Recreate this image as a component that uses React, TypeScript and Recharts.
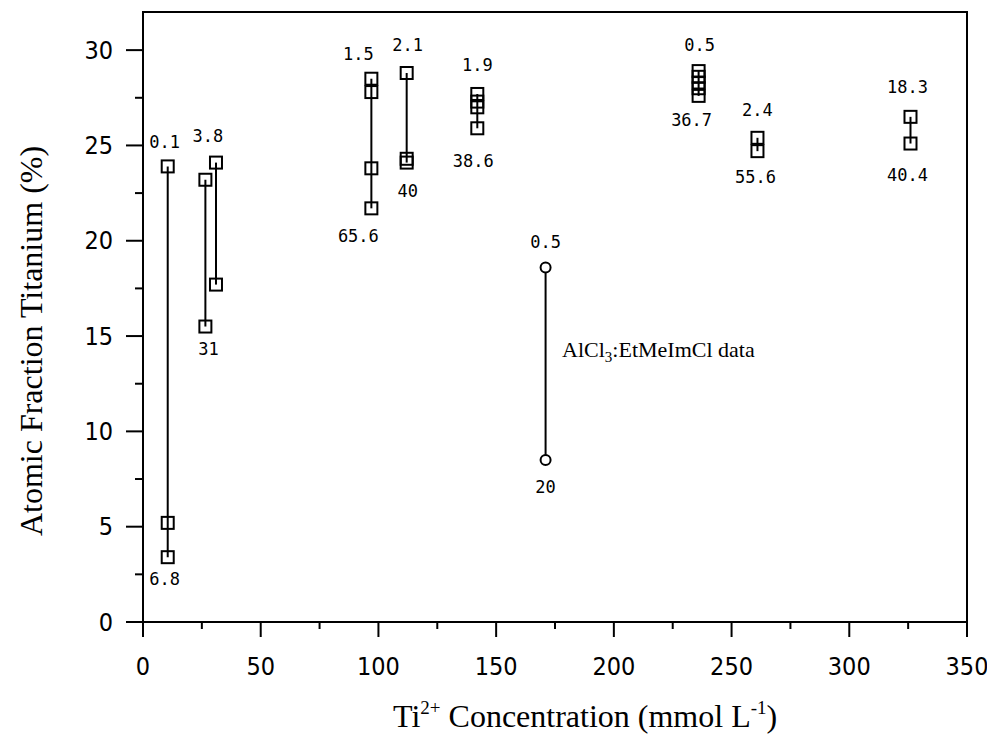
import { ScatterChart, Scatter, XAxis, YAxis, ReferenceDot, ReferenceArea, Label } from 'recharts';

// Ti2+ concentration (mmol/L) for each vertical group of squares
const clusterX = [10.5, 26.5, 31, 97, 112, 142, 236, 261, 326];
// atomic fraction titanium (%) per group, top to bottom
const clusterY = [
  [23.9, 5.2, 3.4],
  [23.2, 15.5],
  [24.1, 17.7],
  [28.5, 27.8, 23.8, 21.7],
  [28.8, 24.3, 24.1],
  [27.7, 27.3, 27.0, 25.9],
  [28.9, 28.6, 28.3, 28.0, 27.6],
  [25.4, 24.7],
  [26.5, 25.1],
];
const topLabels = ['0.1', '', '3.8', '1.5', '2.1', '1.9', '0.5', '2.4', '18.3'];
const bottomLabels = ['6.8', '31', '', '65.6', '40', '38.6', '36.7', '55.6', '40.4'];

// AlCl3:EtMeImCl group (circles)
const ilX = 171;
const ilY = [18.6, 8.5];
const ilTop = '0.5';
const ilBottom = '20';

const xTicks = [0, 25, 50, 75, 100, 125, 150, 175, 200, 225, 250, 275, 300, 325, 350];
const yTicks = [0, 2.5, 5, 7.5, 10, 12.5, 15, 17.5, 20, 22.5, 25, 27.5, 30];

// label nudges: [dxTop, dyTop, dxBottom, dyBottom]
const nudges = [
  [-3, -24, -3, 22],
  [0, 0, 3, 22],
  [-8, -27, 0, 0],
  [-13, -25, -13, 28],
  [1, -28, 1, 28],
  [0, -29, -4, 33],
  [1, -26, -7, 24],
  [0, -28, -2, 26],
  [-3, -30, -3, 31],
];
const ilNudge = [0, -25, 0, 27];

const groups = clusterX.map((x, i) =>
  clusterY[i].map((y, j, arr) => ({
    x,
    y,
    g: i,
    top: j === 0 ? topLabels[i] : '',
    bottom: j === arr.length - 1 ? bottomLabels[i] : '',
  }))
);
const ilData = ilY.map((y, j) => ({
  x: ilX,
  y,
  g: -1,
  top: j === 0 ? ilTop : '',
  bottom: j === ilY.length - 1 ? ilBottom : '',
}));

const numFont = "'DejaVu Sans Mono', monospace";
const tickFont = "'Liberation Sans Narrow', 'DejaVu Sans Condensed', sans-serif";
const serif = "'Liberation Serif', 'DejaVu Serif', serif";

function PointLabels({ cx, cy, payload }: any) {
  const n = payload.g < 0 ? ilNudge : nudges[payload.g];
  return (
    <>
      {payload.top && (
        <text x={cx + n[0]} y={cy + n[1]} textAnchor="middle" dominantBaseline="central" fontFamily={numFont} fontSize={17} fill="#000">
          {payload.top}
        </text>
      )}
      {payload.bottom && (
        <text x={cx + n[2]} y={cy + n[3]} textAnchor="middle" dominantBaseline="central" fontFamily={numFont} fontSize={17} fill="#000">
          {payload.bottom}
        </text>
      )}
    </>
  );
}

function SquareMark(props: any) {
  const { cx, cy } = props;
  return (
    <g>
      <rect x={cx - 6} y={cy - 6} width={12} height={12} fill="none" stroke="#000" strokeWidth={2} />
      <PointLabels {...props} />
    </g>
  );
}

function CircleMark(props: any) {
  const { cx, cy } = props;
  return (
    <g>
      <circle cx={cx} cy={cy} r={5} fill="#fff" stroke="#000" strokeWidth={2} />
      <PointLabels {...props} />
    </g>
  );
}

function XTick({ x, y, payload }: any) {
  const major = payload.value % 50 === 0;
  return (
    <g>
      <line x1={x} x2={x} y1={y} y2={y + (major ? 15 : 7)} stroke="#000" strokeWidth={2} />
      {major && (
        <text x={x} y={y + 44} textAnchor="middle" dominantBaseline="central" fontFamily={tickFont} fontSize={25} fill="#000">
          {payload.value}
        </text>
      )}
    </g>
  );
}

function YTick({ x, y, payload }: any) {
  const major = payload.value % 5 === 0;
  return (
    <g>
      <line x1={x} x2={x - (major ? 17 : 8)} y1={y} y2={y} stroke="#000" strokeWidth={2} />
      {major && (
        <text x={x - 30} y={y} textAnchor="end" dominantBaseline="central" fontFamily={tickFont} fontSize={25} fill="#000">
          {payload.value}
        </text>
      )}
    </g>
  );
}

function XTitle({ viewBox }: any) {
  return (
    <text x={viewBox.x + 250} y={viewBox.y + 105} fontFamily={serif} fontSize={32} fill="#000">
      Ti
      <tspan dy={-13} fontSize={19}>2+</tspan>
      <tspan dy={13}> Concentration (mmol L</tspan>
      <tspan dy={-13} fontSize={19}>-1</tspan>
      <tspan dy={13}>)</tspan>
    </text>
  );
}

function YTitle({ viewBox }: any) {
  const cx = 42;
  const cy = viewBox.y + 329;
  return (
    <text x={cx} y={cy} transform={`rotate(-90, ${cx}, ${cy})`} textAnchor="middle" fontFamily={serif} fontSize={32} fill="#000">
      Atomic Fraction Titanium (%)
    </text>
  );
}

function IlNote({ viewBox }: any) {
  return (
    <text x={viewBox.x} y={viewBox.y} fontFamily={serif} fontSize={22} fill="#000">
      AlCl
      <tspan dy={5} fontSize={15}>3</tspan>
      <tspan dy={-5}>:EtMeImCl data</tspan>
    </text>
  );
}

export default function App() {
  return (
    <div style={{ position: 'absolute', left: 0, top: 0, width: 987, height: 736, background: '#fff' }}>
      <ScatterChart width={987} height={736} margin={{ top: 12, right: 20, bottom: 0, left: 0 }}>
        <ReferenceArea x1={0} x2={350} y1={0} y2={32} fill="none" stroke="#000" strokeWidth={2} ifOverflow="visible" />
        <XAxis
          type="number"
          dataKey="x"
          domain={[0, 350]}
          ticks={xTicks}
          interval={0}
          height={114}
          tickSize={0}
          tickMargin={0}
          tickLine={false}
          tick={<XTick />}
          axisLine={{ stroke: '#000', strokeWidth: 2 }}
        >
          <Label content={<XTitle />} />
        </XAxis>
        <YAxis
          type="number"
          dataKey="y"
          domain={[0, 32]}
          ticks={yTicks}
          interval={0}
          width={143}
          tickSize={0}
          tickMargin={0}
          tickLine={false}
          tick={<YTick />}
          axisLine={{ stroke: '#000', strokeWidth: 2 }}
        >
          <Label content={<YTitle />} />
        </YAxis>
        {groups.map((data, i) => (
          <Scatter
            key={i}
            data={data}
            line={{ stroke: '#000', strokeWidth: 2 }}
            lineType="joint"
            shape={(p: any) => <SquareMark {...p} />}
            isAnimationActive={false}
          />
        ))}
        <Scatter
          data={ilData}
          line={{ stroke: '#000', strokeWidth: 2 }}
          lineType="joint"
          shape={(p: any) => <CircleMark {...p} />}
          isAnimationActive={false}
        />
        <ReferenceDot x={178} y={13.9} r={0} fill="none" stroke="none" label={<Label content={<IlNote />} />} />
      </ScatterChart>
    </div>
  );
}
